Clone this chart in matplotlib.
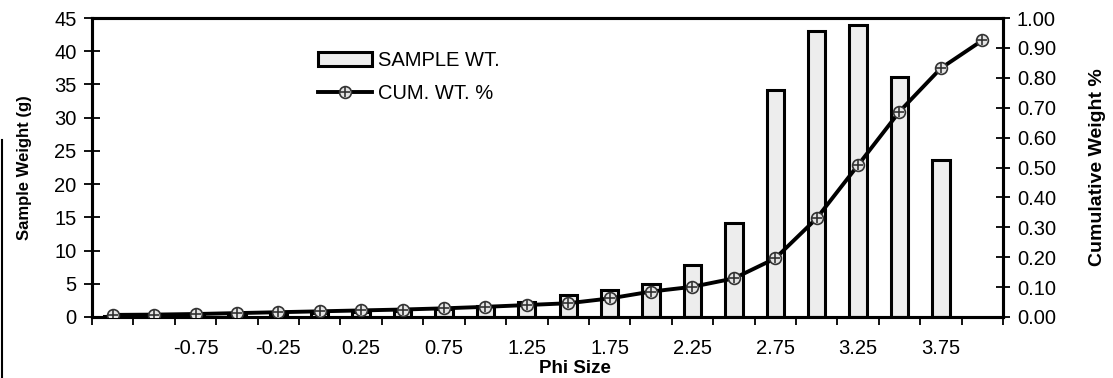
import numpy as np
import matplotlib
matplotlib.use("Agg")
import matplotlib.pyplot as plt
from matplotlib.lines import Line2D

plt.rcParams['font.family'] = ['Liberation Sans', 'DejaVu Sans']

# phi size classes (-1.25 .. 4.00 by 0.25)
phi_sizes = ["-1.25", "-1.00", "-0.75", "-0.50", "-0.25", "0.00", "0.25", "0.50",
             "0.75", "1.00", "1.25", "1.50", "1.75", "2.00", "2.25", "2.50",
             "2.75", "3.00", "3.25", "3.50", "3.75", "4.00"]
shown_labels = ["-0.75", "-0.25", "0.25", "0.75", "1.25", "1.75", "2.25", "2.75", "3.25", "3.75"]

# sample weight (g) per class (no bar for the last class)
sample_wt = [0.2, 0.3, 0.3, 0.4, 0.5, 0.6, 0.7, 0.9, 1.2, 1.6, 2.2,
             3.3, 4.0, 5.0, 7.8, 14.2, 34.1, 43.1, 43.9, 36.1, 23.6]

# cumulative weight fraction
cum_wt = [0.007, 0.008, 0.010, 0.013, 0.016, 0.019, 0.022, 0.025, 0.029, 0.034, 0.040,
          0.046, 0.062, 0.085, 0.101, 0.129, 0.196, 0.330, 0.508, 0.687, 0.832, 0.925]

x_all = np.arange(len(phi_sizes))
x_bar = np.arange(len(sample_wt))

fig = plt.figure(figsize=(11.13, 3.78), dpi=100)
ax = fig.add_axes([92/1113, 1 - 317/378, 911/1113, 299/378])
ax2 = ax.twinx()

bars = ax.bar(x_bar, sample_wt, width=0.42, facecolor="#ededed", edgecolor="black",
              linewidth=2.2, zorder=2)

line, = ax2.plot(x_all, cum_wt, color="black", lw=2.8, marker="o", ms=8.5,
                 mfc="#e4e4e4", mec="#333333", mew=1.2, zorder=3)
plus, = ax2.plot(x_all, cum_wt, ls="none", marker="+", ms=7, mec="#333333", mew=1.2, zorder=4)

ax.set_xlim(-0.5, len(phi_sizes) - 0.5)
ax.set_ylim(0, 45)
ax2.set_ylim(0, 1.0)

# ticks at category boundaries, labels on every other category
ax.set_xticks(np.arange(-0.5, len(phi_sizes)))
ax.set_xticklabels([])
ax.set_xticks([phi_sizes.index(s) for s in shown_labels], minor=True)
ax.set_xticklabels(shown_labels, minor=True)
ax.tick_params(axis="x", which="major", direction="out", length=6, width=1.3)
ax.tick_params(axis="x", which="minor", length=0, pad=16, labelsize=14.5)

ax.set_yticks(np.arange(0, 46, 5))
ax.tick_params(axis="y", direction="inout", length=12, width=1.3, pad=5, labelsize=14.5)
ax2.set_yticks(np.arange(0, 1.01, 0.1))
ax2.set_yticklabels([f"{v:.2f}" for v in np.arange(0, 1.01, 0.1)])
ax2.tick_params(axis="y", direction="inout", length=10, width=1.3, pad=5, labelsize=14.5)

for a in (ax, ax2):
    for s in a.spines.values():
        s.set_linewidth(2.2)

ax.set_ylabel("Sample Weight (g)", fontsize=12, fontweight="bold")
ax.yaxis.set_label_coords(-0.066, 0.5)
ax2.set_ylabel("Cumulative Weight %", fontsize=14, fontweight="bold")
ax2.yaxis.set_label_coords(1.094, 0.5)
ax.set_xlabel("Phi Size", fontsize=13.5, fontweight="bold")
ax.xaxis.set_label_coords(0.530, -0.145)

ax.legend([bars, (line, plus)], ["SAMPLE WT.", "CUM. WT. %"], loc="upper left",
          bbox_to_anchor=(0.228, 0.95), frameon=False, fontsize=14.5,
          handlelength=2.7, handletextpad=0.3, labelspacing=0.7)

# scan edge on the left
fig.add_artist(Line2D([0.002, 0.002], [0.0, 0.63], color="black", lw=1.5))

fig.savefig("out.png", dpi=100)
